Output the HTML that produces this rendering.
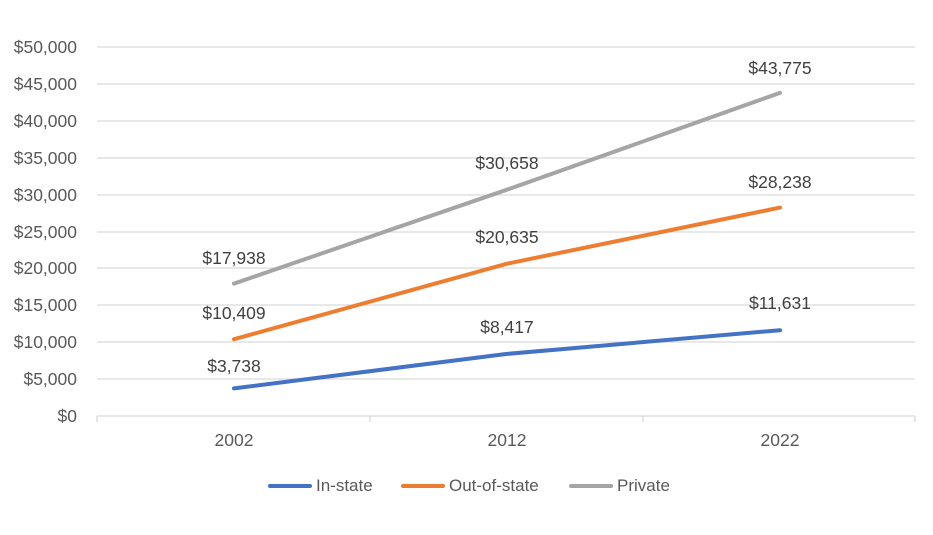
<!DOCTYPE html>
<html><head><meta charset="utf-8"><style>
html,body{margin:0;padding:0;background:#fff;}
svg{display:block;font-family:"Liberation Sans",sans-serif;}
</style></head><body>
<svg width="933" height="535" viewBox="0 0 933 535">
<g stroke="#d9d9d9" stroke-width="1.3">
<line x1="97" x2="915" y1="47" y2="47"/>
<line x1="97" x2="915" y1="84" y2="84"/>
<line x1="97" x2="915" y1="121" y2="121"/>
<line x1="97" x2="915" y1="158" y2="158"/>
<line x1="97" x2="915" y1="195" y2="195"/>
<line x1="97" x2="915" y1="232" y2="232"/>
<line x1="97" x2="915" y1="268" y2="268"/>
<line x1="97" x2="915" y1="305" y2="305"/>
<line x1="97" x2="915" y1="342" y2="342"/>
<line x1="97" x2="915" y1="379" y2="379"/>
<line x1="97" x2="915" y1="416" y2="416"/>
<line x1="97" x2="97" y1="416" y2="422"/>
<line x1="370" x2="370" y1="416" y2="422"/>
<line x1="643" x2="643" y1="416" y2="422"/>
<line x1="915" x2="915" y1="416" y2="422"/>
</g>
<g fill="#595959" font-size="17.5" text-anchor="end">
<text x="77" y="53">$50,000</text>
<text x="77" y="90">$45,000</text>
<text x="77" y="127">$40,000</text>
<text x="77" y="164">$35,000</text>
<text x="77" y="201">$30,000</text>
<text x="77" y="238">$25,000</text>
<text x="77" y="274">$20,000</text>
<text x="77" y="311">$15,000</text>
<text x="77" y="348">$10,000</text>
<text x="77" y="385">$5,000</text>
<text x="77" y="422">$0</text>
</g>
<g fill="#595959" font-size="17.5" text-anchor="middle">
<text x="234" y="446">2002</text>
<text x="507" y="446">2012</text>
<text x="780" y="446">2022</text>
</g>
<g fill="none" stroke-width="4" stroke-linecap="round" stroke-linejoin="round">
<polyline stroke="#4472C4" points="234,388.4 507,353.9 780,330.2"/>
<polyline stroke="#ED7D31" points="234,339.2 507,263.7 780,207.6"/>
<polyline stroke="#A5A5A5" points="234,283.6 507,189.7 780,92.9"/>
</g>
<g fill="#404040" font-size="17.5" text-anchor="middle">
<text x="234" y="372">$3,738</text>
<text x="507" y="333">$8,417</text>
<text x="780" y="309">$11,631</text>
<text x="234" y="319">$10,409</text>
<text x="507" y="243">$20,635</text>
<text x="780" y="188">$28,238</text>
<text x="234" y="264">$17,938</text>
<text x="507" y="169">$30,658</text>
<text x="780" y="74">$43,775</text>
</g>
<g font-size="17" fill="#595959">
<line x1="270" x2="310" y1="486" y2="486" stroke="#4472C4" stroke-width="4" stroke-linecap="round"/>
<text x="316" y="491">In-state</text>
<line x1="403" x2="443" y1="486" y2="486" stroke="#ED7D31" stroke-width="4" stroke-linecap="round"/>
<text x="449" y="491">Out-of-state</text>
<line x1="571" x2="611" y1="486" y2="486" stroke="#A5A5A5" stroke-width="4" stroke-linecap="round"/>
<text x="617" y="491">Private</text>
</g>
</svg>
</body></html>
